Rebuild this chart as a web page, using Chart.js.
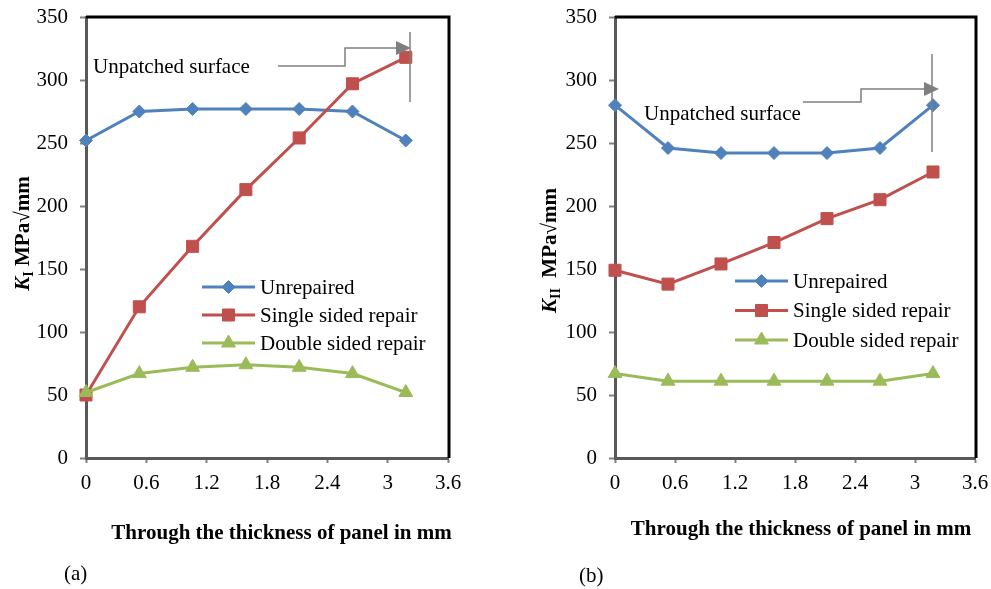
<!DOCTYPE html>
<html>
<head>
<meta charset="utf-8">
<script src="https://cdn.jsdelivr.net/npm/chart.js@4.4.0/dist/chart.umd.min.js"></script>
<style>
  html, body { margin: 0; padding: 0; background: #fff; }
  #wrap { position: relative; width: 991px; height: 589px; overflow: hidden; }
  canvas { position: absolute; top: 0; }
</style>
</head>
<body>
<div id="wrap">
  <canvas id="chartA" width="495" height="589" style="left:0"></canvas>
  <canvas id="chartB" width="496" height="589" style="left:495px"></canvas>
</div>
<script>
// data
var thickness = [0, 0.53, 1.06, 1.59, 2.12, 2.65, 3.18];
var xTicks = [0, 0.6, 1.2, 1.8, 2.4, 3, 3.6];
var yTicks = [0, 50, 100, 150, 200, 250, 300, 350];
var seriesNames = ['Unrepaired', 'Single sided repair', 'Double sided repair'];

var kIUnrepaired = [252, 275, 277, 277, 277, 275, 252];
var kISingle = [50, 120, 168, 213, 254, 297, 318];
var kIDouble = [52, 67, 72, 74, 72, 67, 52];

var kIIUnrepaired = [280, 246, 242, 242, 242, 246, 280];
var kIISingle = [149, 138, 154, 171, 190, 205, 227];
var kIIDouble = [67, 61, 61, 61, 61, 61, 67];

// look
var colors = ['#4F81BD', '#C0504D', '#9BBB59'];
var markers = ['rectRot', 'rect', 'triangle'];
var markerSize = [6.5, 8.5, 8];
var serif = '"Liberation Serif", "Times New Roman", serif';

function pts(ys) {
  return thickness.map(function(x, i) { return { x: x, y: ys[i] }; });
}

function marker(ctx, style, r, x, y) {
  ctx.beginPath();
  if (style == 'rect') {
    var s = Math.SQRT1_2 * r;
    ctx.rect(x - s, y - s, 2 * s, 2 * s);
  } else if (style == 'rectRot') {
    ctx.moveTo(x - r, y); ctx.lineTo(x, y - r); ctx.lineTo(x + r, y); ctx.lineTo(x, y + r);
    ctx.closePath();
  } else {
    var a = 0;
    ctx.moveTo(x + Math.sin(a) * r, y - Math.cos(a) * r);
    a += Math.PI * 2 / 3;
    ctx.lineTo(x + Math.sin(a) * r, y - Math.cos(a) * r);
    a += Math.PI * 2 / 3;
    ctx.lineTo(x + Math.sin(a) * r, y - Math.cos(a) * r);
    ctx.closePath();
  }
  ctx.fill();
  ctx.stroke();
}

function yTitle(ctx, cx, cy, sub, rest) {
  var fK = 'italic bold 21px ' + serif, fS = 'bold 14px ' + serif, fR = 'bold 21px ' + serif;
  ctx.font = fK; var wK = ctx.measureText('K').width;
  ctx.font = fS; var wS = ctx.measureText(sub).width;
  ctx.font = fR; var wR = ctx.measureText(rest).width;
  var x = -(wK + wS + wR) / 2;
  ctx.save();
  ctx.translate(cx, cy);
  ctx.rotate(-Math.PI / 2);
  ctx.textAlign = 'left';
  ctx.textBaseline = 'alphabetic';
  ctx.fillStyle = '#000';
  ctx.font = fK; ctx.fillText('K', x, 0); x += wK;
  ctx.font = fS; ctx.fillText(sub, x, 4); x += wS;
  ctx.font = fR; ctx.fillText(rest, x, 0);
  ctx.restore();
}

function decor(p) {
  return {
    id: 'decor',
    afterDatasetsDraw: function(chart) {
      var ctx = chart.ctx, a = chart.chartArea;
      ctx.save();

      // black frame top / right
      ctx.strokeStyle = '#000';
      ctx.lineWidth = 3;
      ctx.beginPath();
      ctx.moveTo(a.left, a.top);
      ctx.lineTo(a.right + 1, a.top);
      ctx.lineTo(a.right + 1, a.bottom);
      ctx.stroke();

      // unpatched surface callout
      ctx.strokeStyle = '#7f7f7f';
      ctx.fillStyle = '#7f7f7f';
      ctx.lineWidth = 1.5;
      ctx.beginPath();
      p.path.forEach(function(q, i) { if (i == 0) ctx.moveTo(q[0], q[1]); else ctx.lineTo(q[0], q[1]); });
      ctx.stroke();
      var last = p.path[p.path.length - 1];
      ctx.beginPath();
      ctx.moveTo(last[0], last[1] - 7);
      ctx.lineTo(p.tip, last[1]);
      ctx.lineTo(last[0], last[1] + 7);
      ctx.closePath();
      ctx.fill();
      ctx.beginPath();
      ctx.moveTo(p.vline[0], p.vline[1]);
      ctx.lineTo(p.vline[0], p.vline[2]);
      ctx.stroke();

      ctx.fillStyle = '#000';
      ctx.font = '21px ' + serif;
      ctx.textAlign = 'left';
      ctx.textBaseline = 'middle';
      ctx.fillText('Unpatched surface', p.note[0], p.note[1]);

      // legend
      for (var i = 0; i < seriesNames.length; i++) {
        var y = p.legY[i];
        ctx.strokeStyle = colors[i];
        ctx.fillStyle = colors[i];
        ctx.lineWidth = 3;
        ctx.beginPath();
        ctx.moveTo(p.legX[0], y);
        ctx.lineTo(p.legX[1], y);
        ctx.stroke();
        ctx.lineWidth = 1;
        marker(ctx, markers[i], markerSize[i], (p.legX[0] + p.legX[1]) / 2, y);
        ctx.fillStyle = '#000';
        ctx.fillText(seriesNames[i], p.legX[2], y + 1);
      }

      // titles
      ctx.textAlign = 'center';
      ctx.font = 'bold 21px ' + serif;
      ctx.fillText('Through the thickness of panel in mm', p.xt[0], p.xt[1]);
      ctx.font = '21px ' + serif;
      ctx.textAlign = 'left';
      ctx.fillText(p.tag, p.tagPos[0], p.tagPos[1]);
      yTitle(ctx, p.yt[0], p.yt[1], p.sub, p.rest);

      ctx.restore();
    }
  };
}

function makeChart(id, series, p) {
  var sets = series.map(function(ys, i) {
    return {
      label: seriesNames[i],
      data: pts(ys),
      showLine: true,
      borderColor: colors[i],
      backgroundColor: colors[i],
      borderWidth: 3,
      pointStyle: markers[i],
      pointRadius: markerSize[i],
      pointBorderWidth: 1,
      pointBackgroundColor: colors[i],
      pointBorderColor: colors[i],
      tension: 0,
      clip: false,
      order: 3 - i
    };
  });

  return new Chart(document.getElementById(id), {
    type: 'scatter',
    data: { datasets: sets },
    options: {
      responsive: false,
      animation: false,
      devicePixelRatio: 1,
      events: [],
      layout: { padding: { left: 0, top: 17, right: p.padRight, bottom: 0 } },
      plugins: { legend: { display: false }, tooltip: { enabled: false } },
      scales: {
        x: {
          type: 'linear', min: 0, max: 3.6,
          afterBuildTicks: function(s) { s.ticks = xTicks.map(function(v) { return { value: v }; }); },
          afterFit: function(s) { s.height = 131; s.paddingLeft = 0; s.paddingRight = 0; },
          grid: { drawOnChartArea: false, drawTicks: true, tickLength: 5, tickColor: '#808080', tickWidth: 2 },
          border: { display: true, color: '#595959', width: 3 },
          ticks: { color: '#000', font: { family: serif, size: 21 }, padding: 8, maxRotation: 0,
                   callback: function(v) { return String(v); } }
        },
        y: {
          type: 'linear', min: 0, max: 350,
          afterBuildTicks: function(s) { s.ticks = yTicks.map(function(v) { return { value: v }; }); },
          afterFit: function(s) { s.width = p.left; s.paddingTop = 0; s.paddingBottom = 0; },
          grid: { drawOnChartArea: false, drawTicks: true, tickLength: 6, tickColor: '#808080', tickWidth: 2 },
          border: { display: true, color: '#595959', width: 3 },
          ticks: { color: '#000', font: { family: serif, size: 21 }, padding: 12 }
        }
      }
    },
    plugins: [decor(p)]
  });
}

makeChart('chartA', [kIUnrepaired, kISingle, kIDouble], {
  left: 86, padRight: 47,
  path: [[278, 66], [345, 66], [345, 48], [396, 48]], tip: 411, vline: [410, 32, 102],
  note: [93, 67],
  legX: [202, 255, 260], legY: [287, 315, 343],
  xt: [281.5, 534], tag: '(a)', tagPos: [64, 574],
  yt: [29, 233.5], sub: 'I', rest: ' MPa\u221Amm'
});

makeChart('chartB', [kIIUnrepaired, kIISingle, kIIDouble], {
  left: 120, padRight: 16,
  path: [[308, 102], [366, 102], [366, 89], [429, 89]], tip: 444, vline: [437, 54, 152],
  note: [149, 114],
  legX: [240, 293, 298], legY: [281, 310.5, 340],
  xt: [306, 530], tag: '(b)', tagPos: [84, 576],
  yt: [61, 250.5], sub: 'II', rest: '  MPa\u221Amm'
});
</script>
</body>
</html>
